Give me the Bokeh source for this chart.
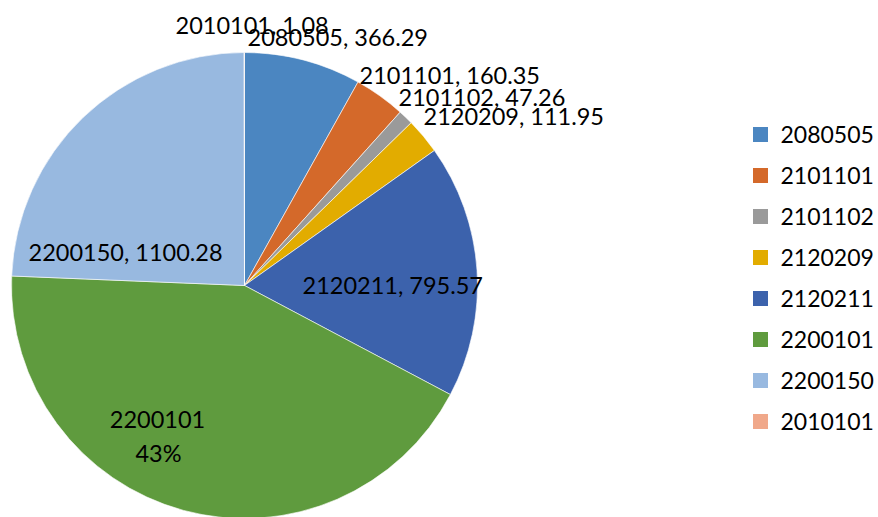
import math
from bokeh.plotting import figure
from bokeh.models import ColumnDataSource, Range1d
from bokeh.core.properties import value
from bokeh.embed import file_html
from bokeh.resources import INLINE

categories = ["2080505", "2101101", "2101102", "2120209", "2120211", "2200101", "2200150", "2010101"]
values = [366.29, 160.35, 47.26, 111.95, 795.57, 1940.0, 1100.28, 1.08]
colors = ["#4B86C1", "#D4692A", "#9A9A9A", "#E2AC00", "#3C62AC", "#5F9B3E", "#98B9E0", "#F0A88A"]
label_texts = ["2080505, 366.29", "2101101, 160.35", "2101102, 47.26", "2120209, 111.95",
               "2120211, 795.57", "2200101", "2200150, 1100.28", "2010101, 1.08"]

W, H = 878, 517
FONT = "Lato"

total = sum(values)
starts, ends = [], []
cum = 0.0
for v in values:
    a0 = cum / total
    cum += v
    a1 = cum / total
    # clockwise from 12 o'clock
    starts.append(math.pi / 2 - a1 * 2 * math.pi)
    ends.append(math.pi / 2 - a0 * 2 * math.pi)

cx, cy, r = 244, 232, 233

p = figure(width=W, height=H, output_backend="svg", toolbar_location=None,
           x_range=Range1d(0, W), y_range=Range1d(0, H), min_border=0)
p.axis.visible = False
p.grid.visible = False
p.outline_line_color = None

src = ColumnDataSource(dict(start=starts, end=ends, color=colors,
                            x=[cx] * len(values), y=[cy] * len(values)))
p.wedge(x="x", y="y", radius=r, start_angle="start", end_angle="end",
        fill_color="color", line_color="white", line_width=0.6, source=src)

# data labels (placement like the original)
lx = [247, 359, 398, 423, 302, None, 28, 175]
ly = [481, 443, 421, 402, 233, None, 266, 493]
lab = dict(x=[], y=[], t=[])
for i, t in enumerate(label_texts):
    if lx[i] is None:
        continue
    lab["x"].append(lx[i]); lab["y"].append(ly[i]); lab["t"].append(t)
p.text(x="x", y="y", text="t", source=ColumnDataSource(lab), text_align="left",
       text_baseline="middle", text_font=value(FONT), text_font_size="23.5px", text_color="#000000")

pct = round(values[5] / total * 100)
p.text(x=[157, 158], y=[98, 65], text=[categories[5], f"{pct}%"], text_align="center",
       text_baseline="middle", text_font=value(FONT), text_font_size="23.5px", text_color="#000000")

# legend
ly0, step = 383, 41
leg_y = [ly0 - i * step for i in range(len(categories))]
p.rect(x=[760] * len(categories), y=leg_y, width=15, height=15, fill_color=colors, line_color=None)
p.text(x=[780] * len(categories), y=leg_y, text=categories, text_align="left", text_baseline="middle",
       text_font=value(FONT), text_font_size="23px", text_color="#000000")

open("out.html", "w").write(file_html(p, INLINE))
